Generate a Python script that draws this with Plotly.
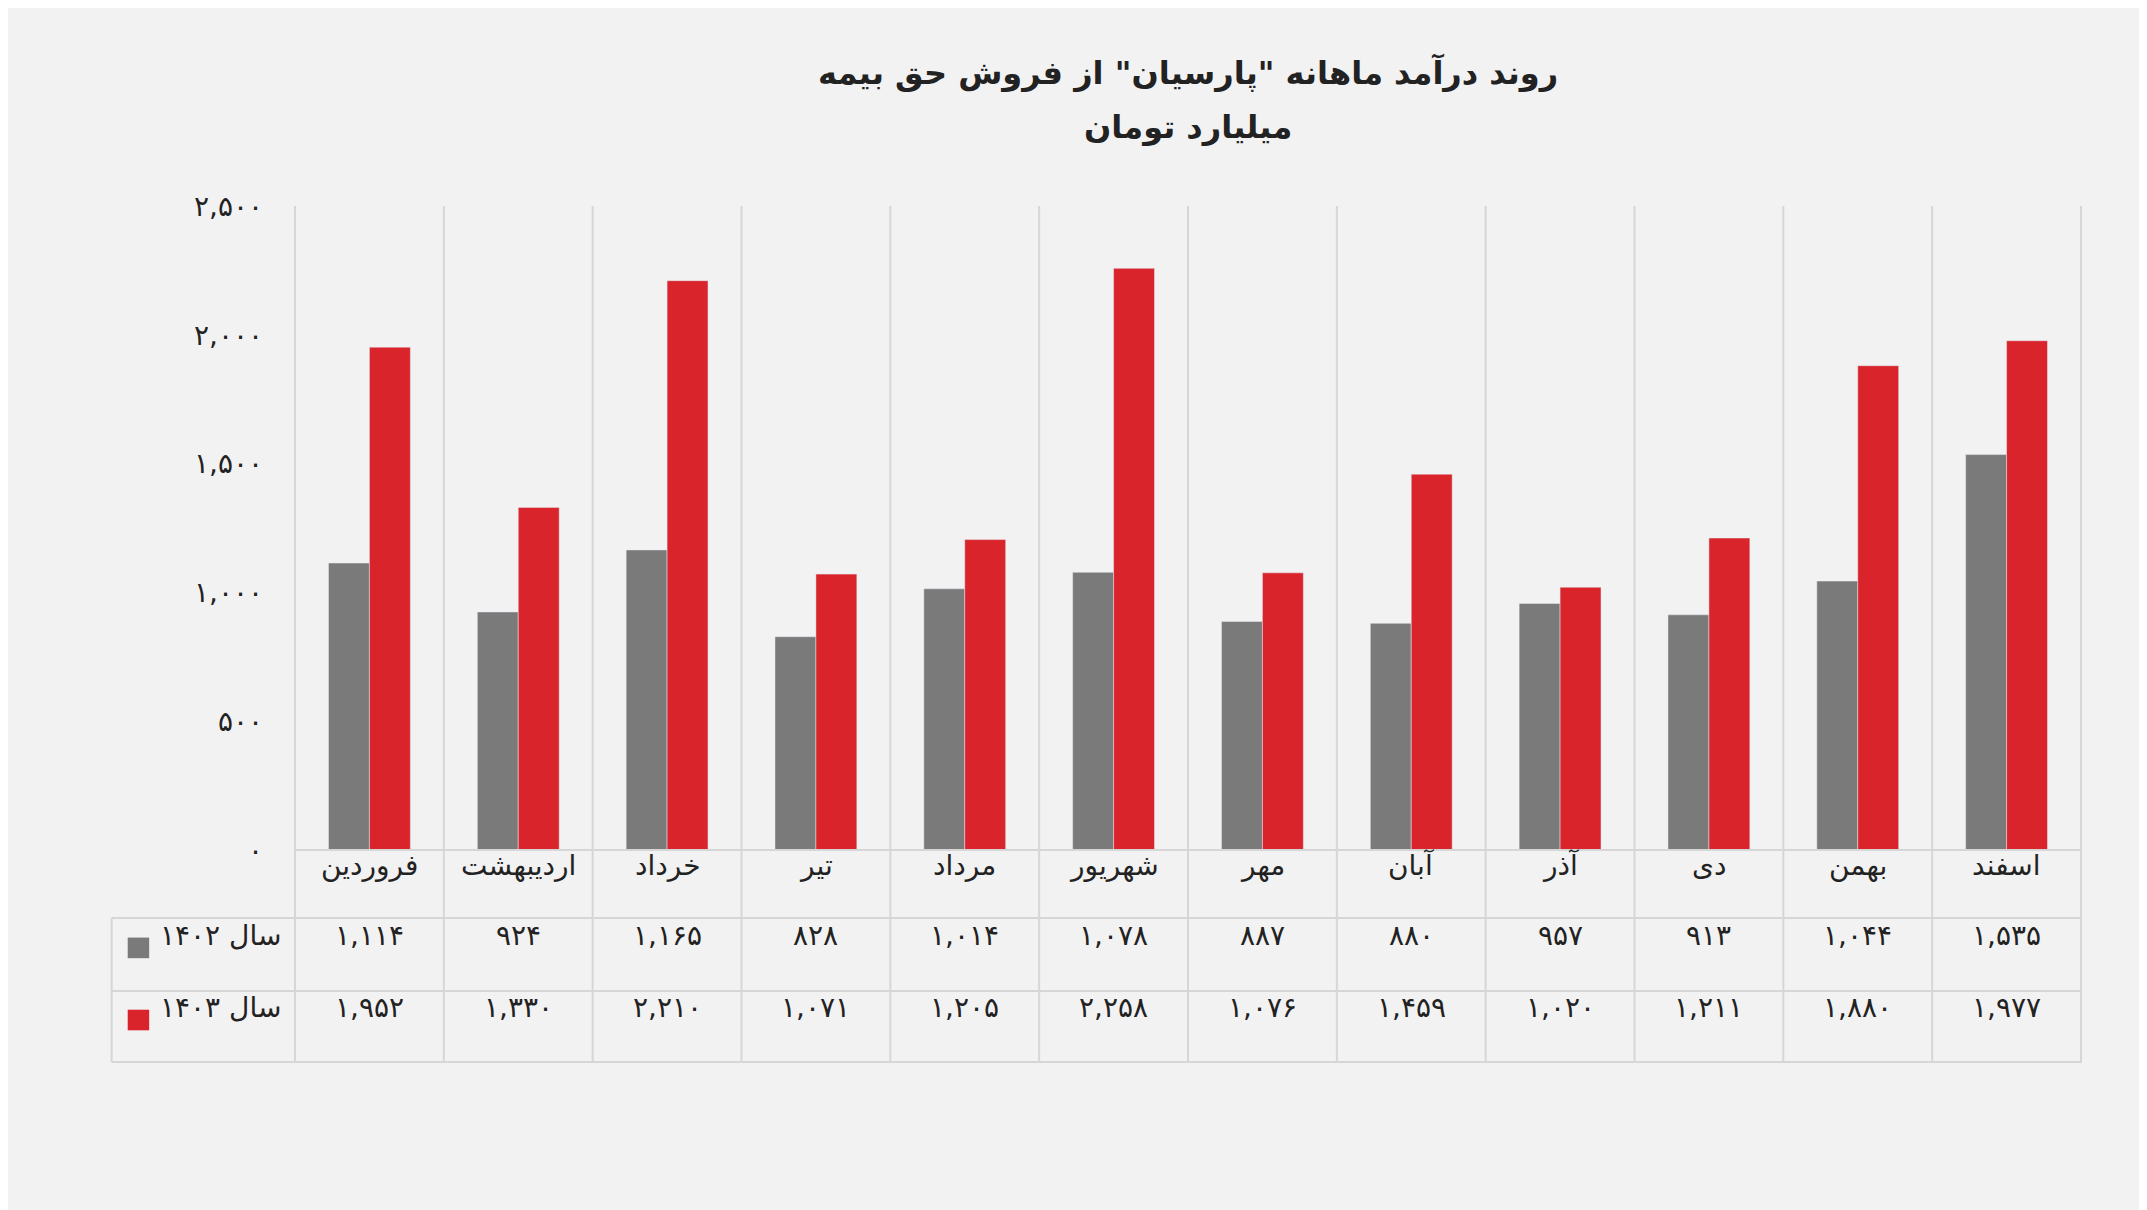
import plotly.graph_objects as go

months = ["فروردین", "اردیبهشت", "خرداد", "تیر", "مرداد", "شهریور",
          "مهر", "آبان", "آذر", "دی", "بهمن", "اسفند"]
y1402 = [1114, 924, 1165, 828, 1014, 1078, 887, 880, 957, 913, 1044, 1535]
y1403 = [1952, 1330, 2210, 1071, 1205, 2258, 1076, 1459, 1020, 1211, 1880, 1977]
ytick_vals = [0, 500, 1000, 1500, 2000, 2500]

fa = str.maketrans("0123456789", "۰۱۲۳۴۵۶۷۸۹")
def fa_num(v):
    return f"{v:,}".translate(fa)

font = "DejaVu Sans"
grid = "#d6d6d6"
fs = 28

fig = go.Figure()
fig.add_bar(x=months, y=y1402, name="سال ۱۴۰۲", marker_color="#7a7a7a")
fig.add_bar(x=months, y=y1403, name="سال ۱۴۰۳", marker_color="#d8242a")

shapes = []
# vertical separators through chart and table
for i in range(13):
    shapes.append(dict(type="line", xref="x", yref="paper", x0=i - 0.5, x1=i - 0.5,
                       y0=-0.329, y1=1, line=dict(color=grid, width=2), layer="below"))
# table horizontal lines
for yy in [0, -0.1056, -0.219, -0.329]:
    x0 = -0.102 if yy != 0 else 0
    shapes.append(dict(type="line", xref="paper", yref="paper", x0=x0, x1=1,
                       y0=yy, y1=yy, line=dict(color=grid, width=2)))
shapes.append(dict(type="line", xref="paper", yref="paper", x0=-0.102, x1=-0.102,
                   y0=-0.1056, y1=-0.329, line=dict(color=grid, width=2)))

ann = []
for i, m in enumerate(months):
    ann.append(dict(x=i, y=-0.053, xref="x", yref="paper", text=m, showarrow=False,
                    font=dict(size=fs, color="#222")))
    ann.append(dict(x=i, y=-0.162, xref="x", yref="paper", text=fa_num(y1402[i]),
                    showarrow=False, font=dict(size=fs, color="#222")))
    ann.append(dict(x=i, y=-0.274, xref="x", yref="paper", text=fa_num(y1403[i]),
                    showarrow=False, font=dict(size=fs, color="#222")))
for yy, name, col in [(-0.162, "سال ۱۴۰۲", "#7a7a7a"), (-0.274, "سال ۱۴۰۳", "#d8242a")]:
    ann.append(dict(x=-0.006, y=yy, xref="paper", yref="paper", text=name, xanchor="right",
                    showarrow=False, font=dict(size=fs, color="#222")))
    shapes.append(dict(type="rect", xref="paper", yref="paper", x0=-0.093, x1=-0.081,
                       y0=yy - 0.006, y1=yy + 0.026, fillcolor=col, line_width=0))

ann.append(dict(x=0.5, y=1.24, xref="paper", yref="paper", showarrow=False,
                text="<b>روند درآمد ماهانه \"پارسیان\" از فروش حق بیمه</b>",
                font=dict(size=32, color="#222")))
ann.append(dict(x=0.5, y=1.155, xref="paper", yref="paper", showarrow=False,
                text="<b>میلیارد تومان</b>", font=dict(size=32, color="#222")))

fig.update_layout(
    width=2147, height=1210,
    paper_bgcolor="#f2f2f2", plot_bgcolor="#f2f2f2",
    margin=dict(l=286, r=73, t=198, b=368),
    barmode="group", bargap=0.45, bargroupgap=0,
    showlegend=False,
    font=dict(family=font, color="#222"),
    shapes=shapes, annotations=ann,
)
fig.update_xaxes(showticklabels=False, showgrid=False, zeroline=False)
fig.update_yaxes(range=[0, 2500], tickvals=ytick_vals,
                 ticktext=[fa_num(v) for v in ytick_vals], showgrid=False,
                 zeroline=False, tickfont=dict(size=fs), ticks="", ticklabelstandoff=30)
fig.write_html("out.html")
